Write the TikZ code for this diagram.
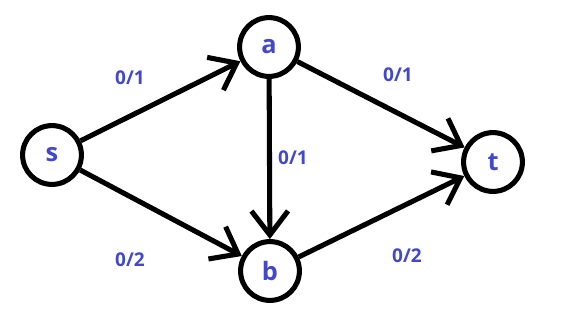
\documentclass[tikz,border=0pt]{standalone}
\usepackage{fontspec}
\setmainfont{Open Sans}
\usepackage{tikz}
\usetikzlibrary{arrows.meta}
\definecolor{flowblue}{RGB}{66,72,204}

\begin{document}
\begin{tikzpicture}[
  x=0.025cm, y=-0.025cm,
  vertex/.style={circle, draw, line width=3.6pt, minimum size=1.47cm, inner sep=0pt, text=flowblue, font=\fontsize{18}{20}\selectfont\bfseries},
  flow/.style={text=flowblue, font=\fontsize{13.5}{15}\selectfont\bfseries},
  arrow/.style={-{Straight Barb[length=17pt, width=26pt]}, line width=3.6pt}
]
\useasboundingbox (0,0) rectangle (568,325);
\node[vertex] (s) at (52,155) {s};
\node[vertex] (a) at (269,47) {a};
\node[vertex] (b) at (270,271) {b};
\node[vertex] (t) at (493,162) {t};
\draw[arrow] (s) -- (a);
\draw[arrow] (s) -- (b);
\draw[arrow] (a) -- (b);
\draw[arrow] (a) -- (t);
\draw[arrow] (b) -- (t);
\node[flow] (fsa) at (130,78) {0/1};
\node[flow] (fsb) at (130,260) {0/2};
\node[flow] (fab) at (293,158) {0/1};
\node[flow] (fat) at (398,75) {0/1};
\node[flow] (fbt) at (407,256) {0/2};
\end{tikzpicture}
\end{document}
